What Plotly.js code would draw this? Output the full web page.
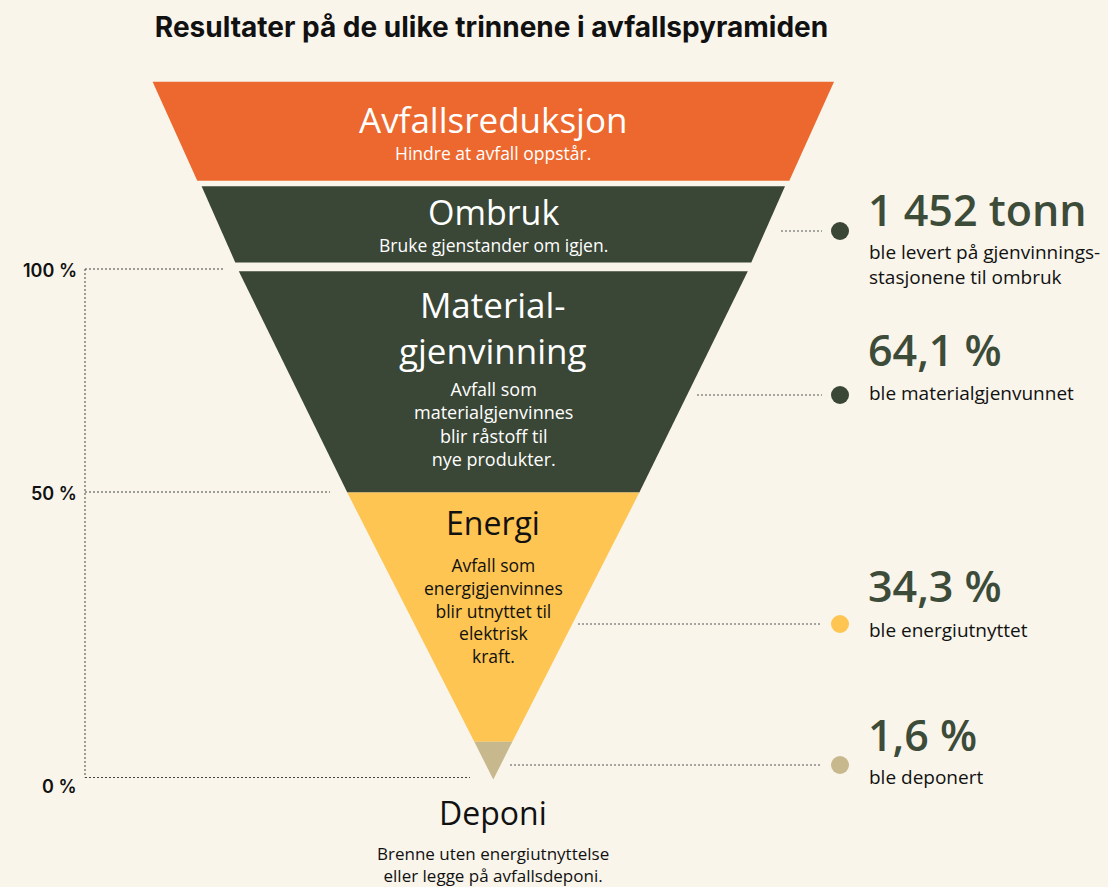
<!DOCTYPE html>
<html>
<head>
<meta charset="utf-8">
<script src="https://cdn.plot.ly/plotly-3.0.1.min.js"></script>
<style>
  html, body { margin: 0; padding: 0; background: #F9F5EB; }
  #chart { width: 1108px; height: 887px; }
</style>
</head>
<body>
<div id="chart"></div>
<script>
// ---------- DATA ----------
const chartTitle = 'Resultater på de ulike trinnene i avfallspyramiden';
const stageNames = ['Avfallsreduksjon', 'Ombruk', 'Material-<br>gjenvinning', 'Energi', 'Deponi'];
const stageDescriptions = [
  'Hindre at avfall oppstår.',
  'Bruke gjenstander om igjen.',
  'Avfall som<br>materialgjenvinnes<br>blir råstoff til<br>nye produkter.',
  'Avfall som<br>energigjenvinnes<br>blir utnyttet til<br>elektrisk<br>kraft.',
  'Brenne uten energiutnyttelse<br>eller legge på avfallsdeponi.'
];
const resultValues = ['1 452 tonn', '64,1 %', '34,3 %', '1,6 %'];
const resultTexts = [
  'ble levert på gjenvinnings-<br>stasjonene til ombruk',
  'ble materialgjenvunnet',
  'ble energiutnyttet',
  'ble deponert'
];
const axisTickLabels = ['100 %', '50 %', '0 %'];

// ---------- GEOMETRY / STYLE (layout only) ----------
const bg = '#F9F5EB';
const stageColors = ['#EC682E', '#3A4636', '#3A4636', '#FEC552', '#C8B88E'];
const stageTextColors = ['#FFFFFF', '#FFFFFF', '#FFFFFF', '#111111', '#111111'];
const cx = 493.3;
// each stage: top y, bottom y, half-width at top, half-width at bottom
const stageGeom = [
  {top: 81.7, bot: 180.7, wTop: 340.7, wBot: 296},
  {top: 186.3, bot: 262.4, wTop: 291.7, wBot: 258},
  {top: 271.2, bot: 492.6, wTop: 254.5, wBot: 146},
  {top: 492.6, bot: 741.8, wTop: 146, wBot: 19},
  {top: 741.8, bot: 779.5, wTop: 19, wBot: 0}
];
const nameY = [119, 211.5, 327, 522, 812];
const descY = [153, 245, 424, 610.5, 864];
const nameSize = [35, 34, 35, 32, 32];
const descSize = [17.5, 17.5, 18, 17.5, 17];

const leaderY = [231, 395, 624, 765];
const leaderX0 = [781, 697, 578, 510];
const dotX = 840;
const dotColors = ['#3A4636', '#3A4636', '#FEC552', '#C8B88E'];
const valueY = [209.5, 349.5, 585.5, 734.5];
const valueTextY = [264, 393, 630, 777];

const axisX = 85;
const axisTickY = [269, 492, 777.5];
const axisTickEnd = [223, 330, 470];
const axisLabelY = [270, 493, 786];

const traces = [];
const annotations = [];

// pyramid stages
stageGeom.forEach((g, i) => {
  traces.push({
    type: 'scatter', mode: 'lines', fill: 'toself',
    x: [cx - g.wTop, cx + g.wTop, cx + g.wBot, cx - g.wBot, cx - g.wTop],
    y: [g.top, g.top, g.bot, g.bot, g.top],
    fillcolor: stageColors[i], line: {width: 0, color: stageColors[i]},
    hoverinfo: 'skip', showlegend: false
  });
  annotations.push({
    x: cx, y: nameY[i], xref: 'x', yref: 'y', showarrow: false,
    text: stageNames[i], xanchor: 'center', yanchor: 'middle',
    font: {family: 'Open Sans, sans-serif', size: nameSize[i], color: stageTextColors[i], weight: 500}
  });
  annotations.push({
    x: cx, y: descY[i], xref: 'x', yref: 'y', showarrow: false,
    text: stageDescriptions[i], xanchor: 'center', yanchor: 'middle',
    font: {family: 'Open Sans, sans-serif', size: descSize[i], color: stageTextColors[i], weight: 500}
  });
});

// left axis dotted lines
traces.push({
  type: 'scatter', mode: 'lines',
  x: [axisX, axisX], y: [axisTickY[0], axisTickY[2]],
  line: {color: '#444', width: 1, dash: '2px,2px'}, hoverinfo: 'skip', showlegend: false
});
axisTickY.forEach((y, i) => {
  traces.push({
    type: 'scatter', mode: 'lines',
    x: [axisX, axisTickEnd[i]], y: [y, y],
    line: {color: '#444', width: 1, dash: '2px,2px'}, hoverinfo: 'skip', showlegend: false
  });
  annotations.push({
    x: 79, y: axisLabelY[i], xref: 'x', yref: 'y', showarrow: false,
    text: axisTickLabels[i], xanchor: 'right', yanchor: 'middle',
    font: {family: 'Inter, sans-serif', size: 18, color: '#111', weight: 600}
  });
});

// right side results
resultValues.forEach((v, i) => {
  traces.push({
    type: 'scatter', mode: 'lines',
    x: [leaderX0[i], dotX - 18], y: [leaderY[i], leaderY[i]],
    line: {color: '#555', width: 1, dash: '2px,2px'}, hoverinfo: 'skip', showlegend: false
  });
  traces.push({
    type: 'scatter', mode: 'markers',
    x: [dotX], y: [leaderY[i]],
    marker: {size: 18, color: dotColors[i], line: {width: 0}},
    hoverinfo: 'skip', showlegend: false
  });
  annotations.push({
    x: 866, y: valueY[i], xref: 'x', yref: 'y', showarrow: false,
    text: v, xanchor: 'left', yanchor: 'middle',
    font: {family: 'Open Sans, sans-serif', size: 43, color: '#3D4B39', weight: 600}
  });
  annotations.push({
    x: 867, y: valueTextY[i], xref: 'x', yref: 'y', showarrow: false,
    text: resultTexts[i], xanchor: 'left', yanchor: 'middle', align: 'left',
    font: {family: 'Open Sans, sans-serif', size: 19, color: '#111', weight: 500}
  });
});

const layout = {
  width: 1108, height: 887,
  margin: {l: 0, r: 0, t: 0, b: 0},
  paper_bgcolor: bg, plot_bgcolor: bg,
  title: {
    text: '<b>' + chartTitle + '</b>',
    x: 0.4436, xanchor: 'center', y: 0.969, yanchor: 'middle',
    font: {family: 'Inter, sans-serif', size: 28, color: '#111'}
  },
  xaxis: {range: [0, 1108], visible: false, fixedrange: true},
  yaxis: {range: [887, 0], visible: false, fixedrange: true},
  annotations: annotations,
  showlegend: false
};

Plotly.newPlot('chart', traces, layout, {displayModeBar: false, staticPlot: true});
</script>
</body>
</html>
